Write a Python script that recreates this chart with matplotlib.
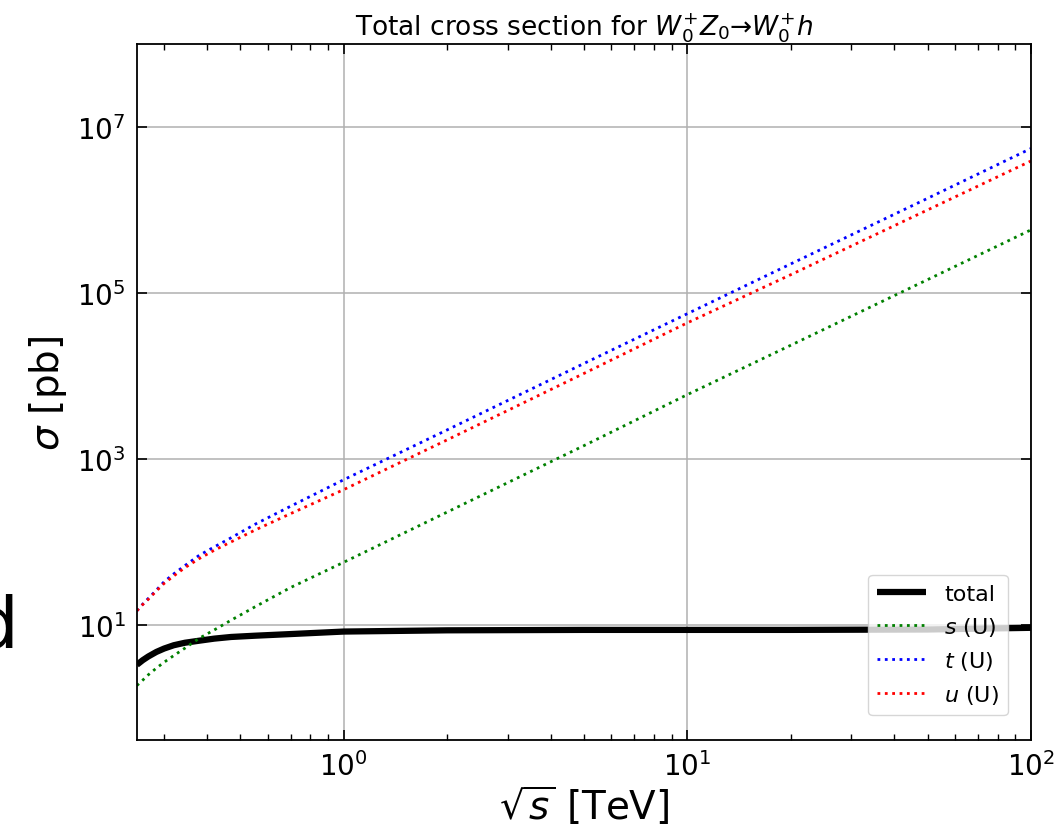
import matplotlib
matplotlib.use("Agg")
import matplotlib.pyplot as plt
from matplotlib.ticker import NullLocator, FixedLocator

# sqrt(s) in TeV
sqrt_s = [0.25, 0.26, 0.27, 0.285, 0.30, 0.32, 0.345, 0.38, 0.42, 0.47, 0.55, 0.70,
          1.0, 2.0, 5.0, 10, 20, 50, 100]

# cross sections in pb
sigma_total = [3.31, 3.76, 4.17, 4.73, 5.19, 5.69, 6.10, 6.46, 6.84, 7.16, 7.41, 7.76,
               8.32, 8.61, 8.71, 8.71, 8.71, 8.81, 9.23]
sigma_s = [1.86, 2.16, 2.51, 3.02, 3.55, 4.27, 5.25, 6.92, 8.71, 11.4, 16.4, 28.2,
           56.9, 229, 1445, 5957, 23442, 144544, 575440]
sigma_t = [14.8, 17.8, 20.9, 26.3, 33.1, 41.2, 51.9, 69.2, 87.1, 112.2, 162, 269,
           562, 2239, 14125, 56234, 223872, 1.38e6, 5.5e6]
sigma_u = [14.8, 17.6, 20.4, 25.7, 31.6, 38.9, 49.0, 63.1, 79.4, 100, 138, 219,
           427, 1698, 10715, 43652, 165959, 1.0e6, 3.89e6]

labels = ["total", "$s$ (U)", "$t$ (U)", "$u$ (U)"]
title = "Total cross section for $W_0^{+}Z_0$\u2192$W_0^{+}h$"

fig = plt.figure(figsize=(10.61, 8.28), dpi=100)
ax = fig.add_axes([0.129, 0.105, 0.8427, 0.8407])

ax.plot(sqrt_s, sigma_total, color="black", lw=4.5, label=labels[0], solid_capstyle="butt")
ax.plot(sqrt_s, sigma_s, color="green", lw=2, ls=":", label=labels[1])
ax.plot(sqrt_s, sigma_t, color="blue", lw=2, ls=":", label=labels[2])
ax.plot(sqrt_s, sigma_u, color="red", lw=2, ls=":", label=labels[3])

ax.set_xscale("log")
ax.set_yscale("log")
ax.set_xlim(0.25, 100)
ax.set_ylim(0.41, 1e8)

ax.yaxis.set_major_locator(FixedLocator([1e1, 1e3, 1e5, 1e7]))
ax.yaxis.set_minor_locator(NullLocator())

ax.grid(True, which="major", color="#b0b0b0", lw=1.1)
ax.set_axisbelow(True)

ax.tick_params(which="both", direction="in", top=True, right=True)
ax.tick_params(which="major", length=7, width=1.2, labelsize=20, pad=8)
ax.tick_params(which="minor", length=4, width=1.0)
for sp in ax.spines.values():
    sp.set_linewidth(1.3)

ax.set_xlabel(r"$\sqrt{s}$ [TeV]", fontsize=28, labelpad=2)
ax.set_ylabel(r"$\sigma$ [pb]", fontsize=28, labelpad=6)
ax.set_title(title, fontsize=19, pad=6)

leg = ax.legend(loc="lower right", bbox_to_anchor=(0.974, 0.036), borderaxespad=0,
                fontsize=16, handlelength=2.2, framealpha=0.8)

fig.text(-0.025, 0.217, "d", fontsize=52, ha="left", va="baseline")

fig.savefig("out.png", dpi=100)
